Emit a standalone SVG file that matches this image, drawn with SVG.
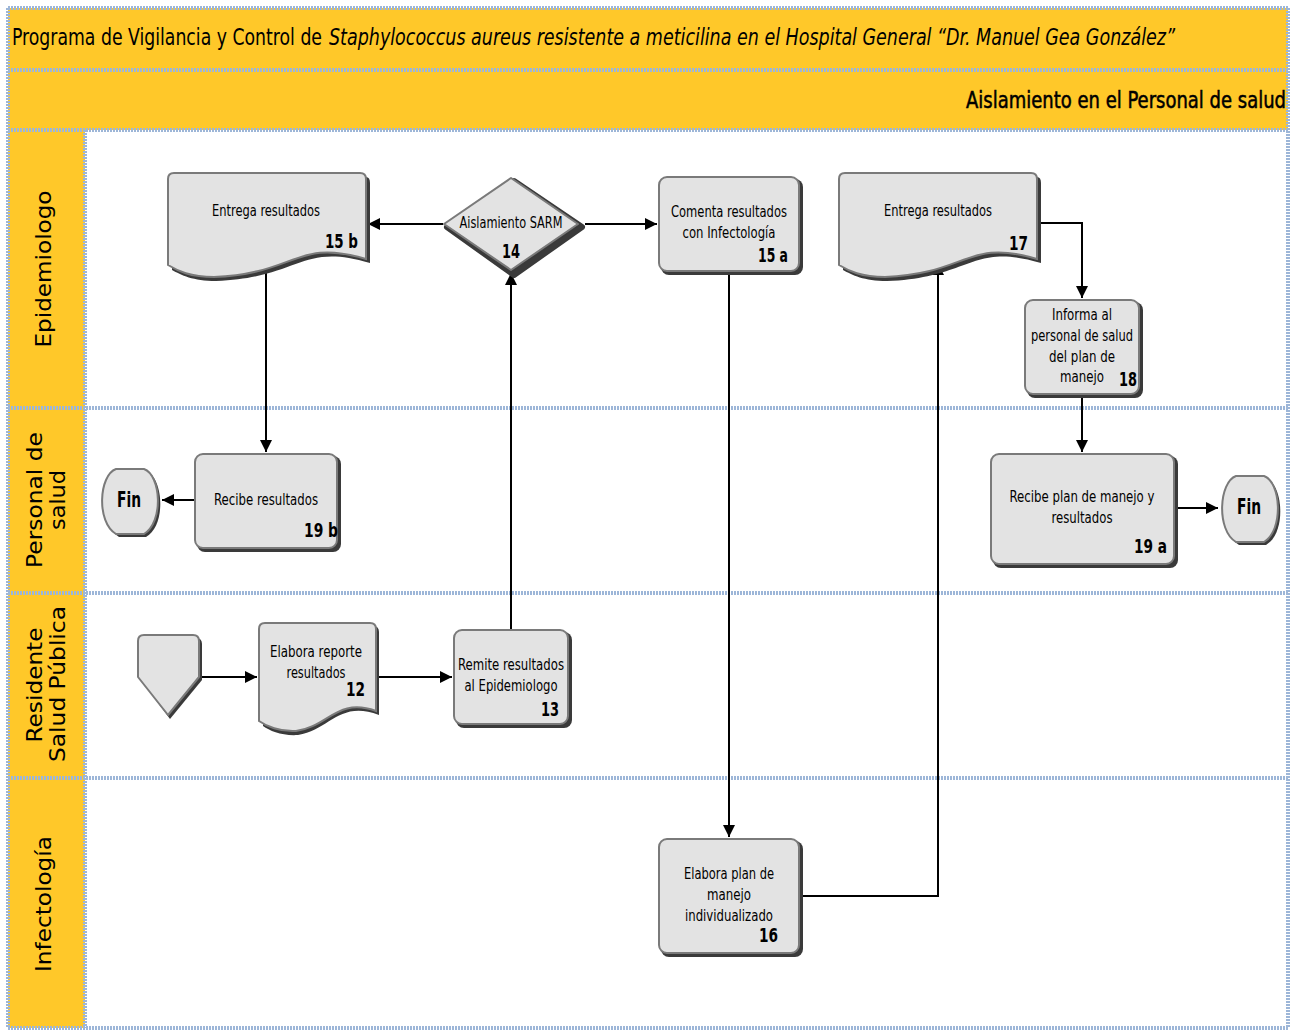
<svg xmlns="http://www.w3.org/2000/svg" width="1303" height="1030" viewBox="0 0 1303 1030">
  <style>
    .band { fill: #FFC829; }
    .sep { stroke: #9db6d8; stroke-width: 4; stroke-dasharray: 2 1; fill: none; }
    .lane { font-family: "DejaVu Sans", "Liberation Sans", sans-serif; font-size: 21px; fill: #000; text-anchor: middle; }
    .hd { font-family: "DejaVu Sans Condensed", "Liberation Sans", sans-serif; font-size: 23px; fill: #000; }
    .shape { fill: #e3e3e3; stroke: #7a7a7a; stroke-width: 2; }
    .shadow { fill: #3a3a3a; }
    .t { font-family: "DejaVu Sans Condensed", "Liberation Sans", sans-serif; font-size: 15px; fill: #000; text-anchor: middle; }
    .n { font-family: "DejaVu Sans Condensed", "Liberation Sans", sans-serif; font-size: 20px; font-weight: bold; fill: #000; text-anchor: end; }
    .fin { font-family: "DejaVu Sans Condensed", "Liberation Sans", sans-serif; font-size: 21px; font-weight: bold; fill: #000; text-anchor: middle; }
    .conn { stroke: #000; stroke-width: 2; fill: none; marker-end: url(#arrow); }
  </style>
  <defs>
    <marker id="arrow" viewBox="0 0 10 10" refX="10" refY="5" markerWidth="6.5" markerHeight="6" markerUnits="strokeWidth" orient="auto">
      <path d="M0,0 L10,5 L0,10 Z" fill="#000"/>
    </marker>
  </defs>

  <!-- page background -->
  <rect x="0" y="0" width="1303" height="1030" fill="#fff"/>

  <!-- header bands -->
  <rect class="band" x="8" y="8" width="1280" height="62"/>
  <rect class="band" x="8" y="70" width="1280" height="60"/>
  <!-- lane title column -->
  <rect class="band" x="8" y="130" width="77" height="898"/>

  <!-- frame and lane separators -->
  <g id="frame">
    <line class="sep" x1="8" y1="8" x2="1288" y2="8"/>
    <line class="sep" x1="8" y1="70" x2="1288" y2="70"/>
    <line class="sep" x1="8" y1="130" x2="1288" y2="130"/>
    <line class="sep" x1="8" y1="408" x2="1288" y2="408"/>
    <line class="sep" x1="8" y1="593" x2="1288" y2="593"/>
    <line class="sep" x1="8" y1="778" x2="1288" y2="778"/>
    <line class="sep" x1="8" y1="1028" x2="1288" y2="1028"/>
    <line class="sep" x1="8" y1="8" x2="8" y2="1028"/>
    <line class="sep" x1="85" y1="130" x2="85" y2="1028"/>
    <line class="sep" x1="1288" y1="8" x2="1288" y2="1028"/>
  </g>

  <!-- headings -->
  <g id="title">
    <text class="hd" y="45"><tspan x="12" textLength="310" lengthAdjust="spacingAndGlyphs">Programa de Vigilancia y Control de</tspan><tspan x="329" font-style="italic" textLength="846" lengthAdjust="spacingAndGlyphs">Staphylococcus aureus resistente a meticilina en el Hospital General “Dr. Manuel Gea González”</tspan></text>
  </g>
  <g id="subtitle">
    <text class="hd" x="966" y="108" stroke="#000" stroke-width="0.5" textLength="320" lengthAdjust="spacingAndGlyphs">Aislamiento en el Personal de salud</text>
  </g>

  <!-- lane labels -->
  <g id="lane-epidemiologo"><text class="lane" transform="translate(51,269) rotate(-90)" textLength="157" lengthAdjust="spacingAndGlyphs">Epidemiologo</text></g>
  <g id="lane-personal"><text class="lane" transform="translate(42,500) rotate(-90)" textLength="136" lengthAdjust="spacingAndGlyphs">Personal de</text><text class="lane" transform="translate(65,500) rotate(-90)" textLength="60" lengthAdjust="spacingAndGlyphs">salud</text></g>
  <g id="lane-residente"><text class="lane" transform="translate(42,685) rotate(-90)" textLength="115" lengthAdjust="spacingAndGlyphs">Residente</text><text class="lane" transform="translate(65,684) rotate(-90)" textLength="156" lengthAdjust="spacingAndGlyphs">Salud Pública</text></g>
  <g id="lane-infectologia"><text class="lane" transform="translate(51,904) rotate(-90)" textLength="136" lengthAdjust="spacingAndGlyphs">Infectología</text></g>

  <!-- connectors -->
  <g id="connectors">
    <path class="conn" d="M443,224 H368"/>
    <path class="conn" d="M585,224 H657"/>
    <path class="conn" d="M266,264 V452"/>
    <path class="conn" d="M194,500 H162"/>
    <path class="conn" d="M200,677 H257"/>
    <path class="conn" d="M377,677 H452"/>
    <path class="conn" d="M511,629 V273"/>
    <path class="conn" d="M729,273 V837"/>
    <path class="conn" d="M801,896 H938 V263"/>
    <path class="conn" d="M1038,223 H1082 V298"/>
    <path class="conn" d="M1082,396 V452"/>
    <path class="conn" d="M1176,508 H1218"/>
  </g>

  <!-- 15 b: document -->
  <g id="n15b">
    <path class="shadow" d="M172,177 H366 Q370,177 370,183 V263 C300,242 300,278 216,281 C193,281 181,275 172,270 Z"/>
    <path class="shape" d="M174,173 H360 Q366,173 366,179 V259 C296,238 296,274 214,277 C190,277 178,271 168,265 V179 Q168,173 174,173 Z"/>
    <text class="t" x="266" y="216" textLength="108" lengthAdjust="spacingAndGlyphs">Entrega resultados</text>
    <text class="n" x="358" y="248" textLength="33" lengthAdjust="spacingAndGlyphs">15 b</text>
  </g>

  <!-- 14: decision -->
  <g id="n14">
    <path class="shadow" d="M514,181 L582,227 L514,275 L447,227 Z" stroke="#3a3a3a" stroke-width="6" stroke-linejoin="round"/>
    <path class="shape" d="M511,178 L578,224 L511,270 L444,224 Z" stroke-linejoin="round"/>
    <text class="t" x="511" y="228" textLength="103" lengthAdjust="spacingAndGlyphs">Aislamiento SARM</text>
    <text class="n" x="520" y="258" textLength="18" lengthAdjust="spacingAndGlyphs">14</text>
  </g>

  <!-- 15 a -->
  <g id="n15a">
    <rect class="shadow" x="661" y="179" width="142" height="96" rx="8"/>
    <rect class="shape" x="659" y="177" width="140" height="94" rx="8"/>
    <text class="t" x="729" y="217" textLength="116" lengthAdjust="spacingAndGlyphs">Comenta resultados</text>
    <text class="t" x="729" y="238" textLength="93" lengthAdjust="spacingAndGlyphs">con Infectología</text>
    <text class="n" x="788" y="262" textLength="30" lengthAdjust="spacingAndGlyphs">15 a</text>
  </g>

  <!-- 17: document -->
  <g id="n17">
    <path class="shadow" d="M843,177 H1037 Q1041,177 1041,183 V263 C971,242 971,278 887,281 C864,281 852,275 843,270 Z"/>
    <path class="shape" d="M845,173 H1031 Q1037,173 1037,179 V259 C967,238 967,274 885,277 C861,277 849,271 839,265 V179 Q839,173 845,173 Z"/>
    <text class="t" x="938" y="216" textLength="108" lengthAdjust="spacingAndGlyphs">Entrega resultados</text>
    <text class="n" x="1028" y="250" textLength="19" lengthAdjust="spacingAndGlyphs">17</text>
  </g>

  <!-- 18 -->
  <g id="n18">
    <rect class="shadow" x="1027" y="302" width="116" height="96" rx="8"/>
    <rect class="shape" x="1025" y="300" width="114" height="94" rx="8"/>
    <text class="t" x="1082" y="320" textLength="60" lengthAdjust="spacingAndGlyphs">Informa al</text>
    <text class="t" x="1082" y="341" textLength="102" lengthAdjust="spacingAndGlyphs">personal de salud</text>
    <text class="t" x="1082" y="362" textLength="66" lengthAdjust="spacingAndGlyphs">del plan de</text>
    <text class="t" x="1082" y="382" textLength="44" lengthAdjust="spacingAndGlyphs">manejo</text>
    <text class="n" x="1137" y="386" textLength="18" lengthAdjust="spacingAndGlyphs">18</text>
  </g>

  <!-- 19 b -->
  <g id="n19b">
    <rect class="shadow" x="197" y="456" width="144" height="96" rx="8"/>
    <rect class="shape" x="195" y="454" width="142" height="94" rx="8"/>
    <text class="t" x="266" y="505" textLength="104" lengthAdjust="spacingAndGlyphs">Recibe resultados</text>
    <text class="n" x="338" y="537" textLength="34" lengthAdjust="spacingAndGlyphs">19 b</text>
  </g>

  <!-- Fin (left) -->
  <g id="fin-left">
    <path class="shadow" d="M119,471 H146 C163,477 167,525 146,537 H119 C99,525 101,477 119,471 Z"/>
    <path class="shape" d="M116,469 H144 C161,475 164,522 144,534 H116 C96,522 99,475 116,469 Z"/>
    <text class="fin" x="129" y="507" textLength="24" lengthAdjust="spacingAndGlyphs">Fin</text>
  </g>

  <!-- 19 a -->
  <g id="n19a">
    <rect class="shadow" x="993" y="456" width="185" height="112" rx="8"/>
    <rect class="shape" x="991" y="454" width="183" height="110" rx="8"/>
    <text class="t" x="1082" y="502" textLength="145" lengthAdjust="spacingAndGlyphs">Recibe plan de manejo y</text>
    <text class="t" x="1082" y="523" textLength="61" lengthAdjust="spacingAndGlyphs">resultados</text>
    <text class="n" x="1167" y="553" textLength="33" lengthAdjust="spacingAndGlyphs">19 a</text>
  </g>

  <!-- Fin (right) -->
  <g id="fin-right">
    <path class="shadow" d="M1239,478 H1266 C1283,484 1287,533 1266,545 H1239 C1219,533 1221,484 1239,478 Z"/>
    <path class="shape" d="M1236,476 H1264 C1281,482 1284,530 1264,542 H1236 C1216,530 1219,482 1236,476 Z"/>
    <text class="fin" x="1249" y="514" textLength="24" lengthAdjust="spacingAndGlyphs">Fin</text>
  </g>

  <!-- off-page connector -->
  <g id="offpage">
    <path class="shadow" d="M147,638 H196 Q202,638 202,644 V680 L170,719 L141,680 V644 Q141,638 147,638 Z"/>
    <path class="shape" d="M144,635 H193 Q199,635 199,641 V677 L168,715 L138,677 V641 Q138,635 144,635 Z" stroke-linejoin="round"/>
  </g>

  <!-- 12: document -->
  <g id="n12">
    <path class="shadow" d="M265,626 H373 Q379,626 379,632 V715 C339,700 330,730 298,735 C282,736 270,731 263,726 Z"/>
    <path class="shape" d="M265,623 H370 Q376,623 376,629 V711 C337,697 328,727 296,731 C280,732 266,726 259,721 V629 Q259,623 265,623 Z"/>
    <text class="t" x="316" y="657" textLength="92" lengthAdjust="spacingAndGlyphs">Elabora reporte</text>
    <text class="t" x="316" y="678" textLength="59" lengthAdjust="spacingAndGlyphs">resultados</text>
    <text class="n" x="365" y="696" textLength="19" lengthAdjust="spacingAndGlyphs">12</text>
  </g>

  <!-- 13 -->
  <g id="n13">
    <rect class="shadow" x="456" y="632" width="116" height="96" rx="8"/>
    <rect class="shape" x="454" y="630" width="114" height="94" rx="8"/>
    <text class="t" x="511" y="670" textLength="106" lengthAdjust="spacingAndGlyphs">Remite resultados</text>
    <text class="t" x="511" y="691" textLength="93" lengthAdjust="spacingAndGlyphs">al Epidemiologo</text>
    <text class="n" x="559" y="716" textLength="18" lengthAdjust="spacingAndGlyphs">13</text>
  </g>

  <!-- 16 -->
  <g id="n16">
    <rect class="shadow" x="661" y="841" width="142" height="116" rx="8"/>
    <rect class="shape" x="659" y="839" width="140" height="114" rx="8"/>
    <text class="t" x="729" y="879" textLength="90" lengthAdjust="spacingAndGlyphs">Elabora plan de</text>
    <text class="t" x="729" y="900" textLength="44" lengthAdjust="spacingAndGlyphs">manejo</text>
    <text class="t" x="729" y="921" textLength="88" lengthAdjust="spacingAndGlyphs">individualizado</text>
    <text class="n" x="778" y="942" textLength="19" lengthAdjust="spacingAndGlyphs">16</text>
  </g>
</svg>
